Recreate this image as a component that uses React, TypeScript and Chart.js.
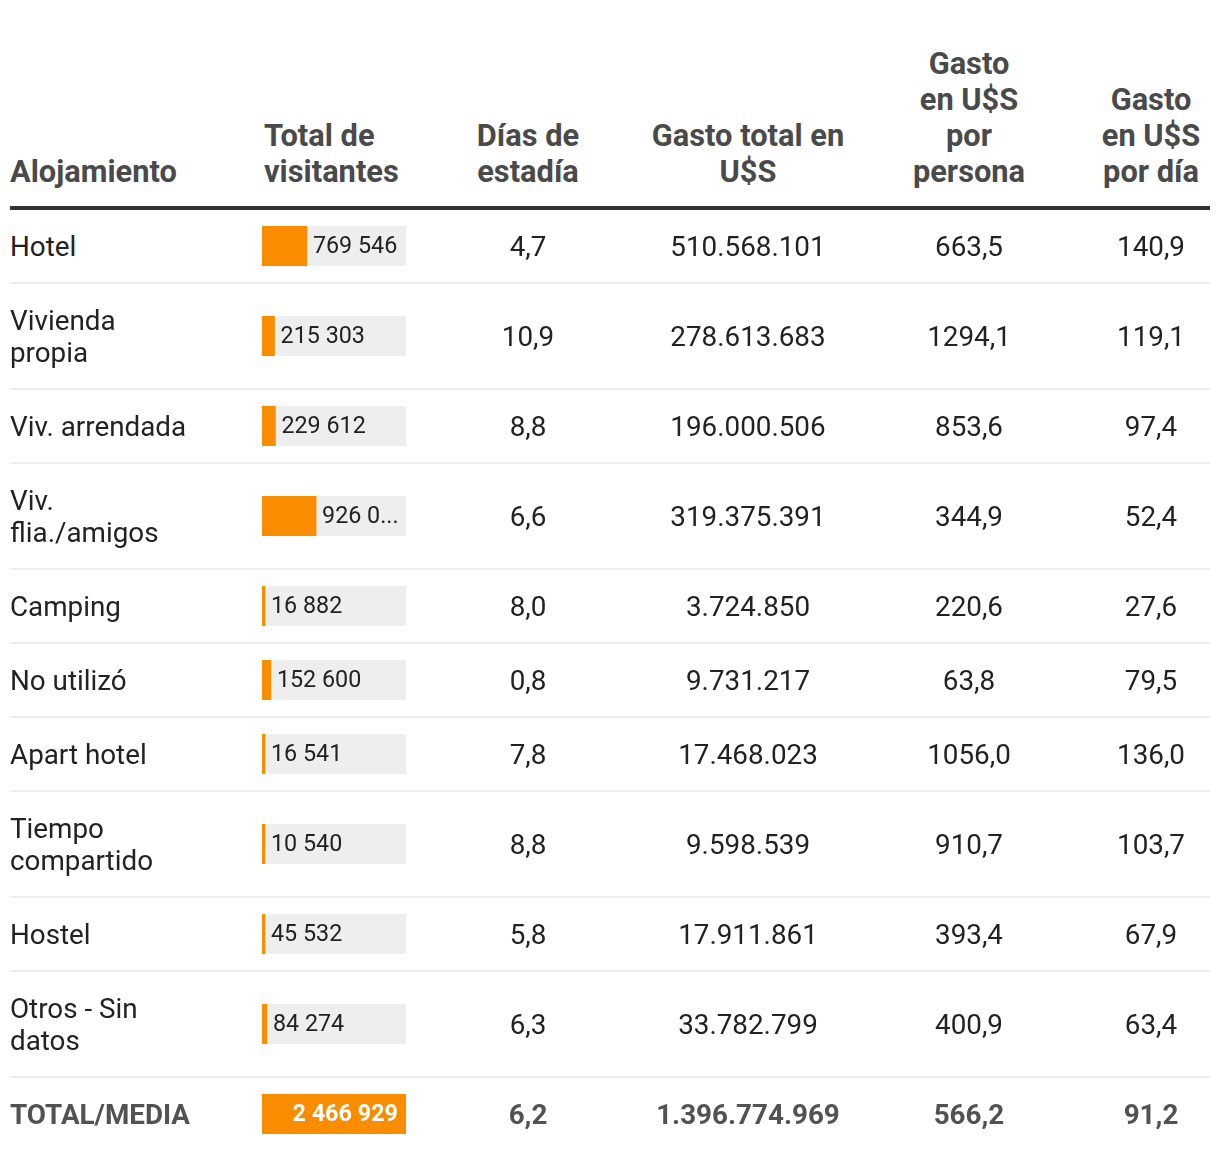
import React, { useEffect, useRef } from "react";
import { Chart, registerables } from "chart.js";

Chart.register(...registerables);

// ---- data ----
const headers = [
  "Alojamiento",
  "Total de\nvisitantes",
  "Días de\nestadía",
  "Gasto total en\nU$S",
  "Gasto\nen U$S\npor\npersona",
  "Gasto\nen U$S\npor día",
];
const categories = [
  "Hotel",
  "Vivienda\npropia",
  "Viv. arrendada",
  "Viv.\nflia./amigos",
  "Camping",
  "No utilizó",
  "Apart hotel",
  "Tiempo\ncompartido",
  "Hostel",
  "Otros - Sin\ndatos",
];
const totalLabel = "TOTAL/MEDIA";
const visitantes = [769546, 215303, 229612, 926099, 16882, 152600, 16541, 10540, 45532, 84274];
const visitantesTotal = 2466929;
const diasEstadia = [4.7, 10.9, 8.8, 6.6, 8.0, 0.8, 7.8, 8.8, 5.8, 6.3];
const diasTotal = 6.2;
const gastoTotal = [510568101, 278613683, 196000506, 319375391, 3724850, 9731217, 17468023, 9598539, 17911861, 33782799];
const gastoTotalSum = 1396774969;
const gastoPersona = [663.5, 1294.1, 853.6, 344.9, 220.6, 63.8, 1056.0, 910.7, 393.4, 400.9];
const gastoPersonaTotal = 566.2;
const gastoDia = [140.9, 119.1, 97.4, 52.4, 27.6, 79.5, 136.0, 103.7, 67.9, 63.4];
const gastoDiaTotal = 91.2;

// ---- styles ----
const ORANGE = "#fa8c00";
const TRACK = "#eeeeee";
const FONT = "Roboto, 'Noto Sans', sans-serif";
const BODY_COLOR = "#222222";
const HEAD_COLOR = "#4a4a4a";
const TOTAL_COLOR = "#525252";

const fmtSpace = (n: number) => String(n).replace(/\B(?=(\d{3})+(?!\d))/g, " ");
const fmtDot = (n: number) => String(n).replace(/\B(?=(\d{3})+(?!\d))/g, ".");
const fmtDec = (n: number) => n.toFixed(1).replace(".", ",");

function BarCell({ value, max, isTotal }: { value: number; max: number; isTotal: boolean }) {
  const ref = useRef<HTMLCanvasElement | null>(null);
  useEffect(() => {
    if (!ref.current) return;
    const labelPlugin = {
      id: "cellLabel",
      beforeDatasetsDraw(chart: any) {
        const { ctx, chartArea } = chart;
        ctx.save();
        ctx.fillStyle = TRACK;
        ctx.fillRect(chartArea.left, chartArea.top, chartArea.right - chartArea.left, chartArea.bottom - chartArea.top);
        ctx.restore();
      },
      afterDatasetsDraw(chart: any) {
        const { ctx, chartArea } = chart;
        const bar: any = chart.getDatasetMeta(0).data[0];
        const text = fmtSpace(value);
        const cy = (chartArea.top + chartArea.bottom) / 2;
        ctx.save();
        ctx.textBaseline = "middle";
        if (isTotal) {
          ctx.font = `bold 23.4px ${FONT}`;
          ctx.fillStyle = "#ffffff";
          ctx.textAlign = "right";
          ctx.fillText(text, chartArea.right - 8, cy + 1.5);
        } else {
          ctx.font = `23.3px ${FONT}`;
          ctx.fillStyle = BODY_COLOR;
          ctx.textAlign = "left";
          const start = bar.x + 6;
          const avail = chartArea.right - 5 - start;
          let t = text;
          if (ctx.measureText(t).width > avail) {
            while (t.length > 0 && ctx.measureText(t + "...").width > avail) t = t.slice(0, -1);
            t = t + "...";
          }
          ctx.fillText(t, start, cy + 1.5);
        }
        ctx.restore();
      },
    };
    const chart = new Chart(ref.current, {
      type: "bar",
      data: {
        labels: [""],
        datasets: [
          {
            data: [value],
            backgroundColor: ORANGE,
            borderWidth: 0,
            minBarLength: 3,
            barPercentage: 1,
            categoryPercentage: 1,
          },
        ],
      },
      options: {
        animation: false,
        responsive: false,
        indexAxis: "y",
        layout: { padding: 0 },
        scales: {
          x: { display: false, min: 0, max },
          y: { display: false },
        },
        plugins: { legend: { display: false }, tooltip: { enabled: false } },
      },
      plugins: [labelPlugin],
    } as any);
    return () => chart.destroy();
  }, [value, max, isTotal]);
  return <canvas ref={ref} width={144} height={40} style={{ display: "block", width: 144, height: 40 }} />;
}

const colWidths = [252, 178, 176, 264, 178, 152];

export default function App() {
  const headCell = (i: number): React.CSSProperties => ({
    fontFamily: FONT,
    fontWeight: 700,
    fontSize: 30.8,
    lineHeight: "36px",
    color: HEAD_COLOR,
    whiteSpace: "pre-line",
    verticalAlign: "bottom",
    textAlign: i <= 1 ? "left" : "center",
    padding: i === 5 ? "38px 0 16px 34px" : i === 1 ? "38px 0 16px 2px" : "38px 0 16px 0",
    borderBottom: "4px solid #333333",
  });
  const bodyCell = (i: number, last: boolean, bold: boolean): React.CSSProperties => ({
    fontFamily: FONT,
    fontWeight: bold ? 700 : 400,
    fontSize: 27.8,
    lineHeight: "32px",
    color: bold ? TOTAL_COLOR : BODY_COLOR,
    whiteSpace: "pre-line",
    verticalAlign: "middle",
    textAlign: i <= 1 ? "left" : "center",
    padding: i === 1 ? "0" : i === 5 ? "21px 0 19px 34px" : "21px 0 19px 0",
    borderBottom: last ? "none" : "2px solid #eeeeee",
  });

  const rows = categories.map((c, r) => ({
    label: c,
    vis: visitantes[r],
    cells: [fmtDec(diasEstadia[r]), fmtDot(gastoTotal[r]), fmtDec(gastoPersona[r]), fmtDec(gastoDia[r])],
    total: false,
  }));
  rows.push({
    label: totalLabel,
    vis: visitantesTotal,
    cells: [fmtDec(diasTotal), fmtDot(gastoTotalSum), fmtDec(gastoPersonaTotal), fmtDec(gastoDiaTotal)],
    total: true,
  });

  return (
    <div style={{ paddingLeft: 2, width: 1200 }}>
      <table style={{ borderCollapse: "collapse", tableLayout: "fixed", width: 1200 }}>
        <colgroup>
          {colWidths.map((w, i) => (
            <col key={i} style={{ width: w }} />
          ))}
        </colgroup>
        <thead>
          <tr>
            {headers.map((h, i) => (
              <th key={i} style={headCell(i)}>
                {h}
              </th>
            ))}
          </tr>
        </thead>
        <tbody>
          {rows.map((row, r) => {
            const last = r === rows.length - 1;
            return (
              <tr key={r}>
                <td style={bodyCell(0, last, row.total)}>{row.label}</td>
                <td style={bodyCell(1, last, row.total)}>
                  <BarCell value={row.vis} max={visitantesTotal} isTotal={row.total} />
                </td>
                {row.cells.map((v, k) => (
                  <td key={k} style={bodyCell(k + 2, last, row.total)}>
                    {v}
                  </td>
                ))}
              </tr>
            );
          })}
        </tbody>
      </table>
    </div>
  );
}
